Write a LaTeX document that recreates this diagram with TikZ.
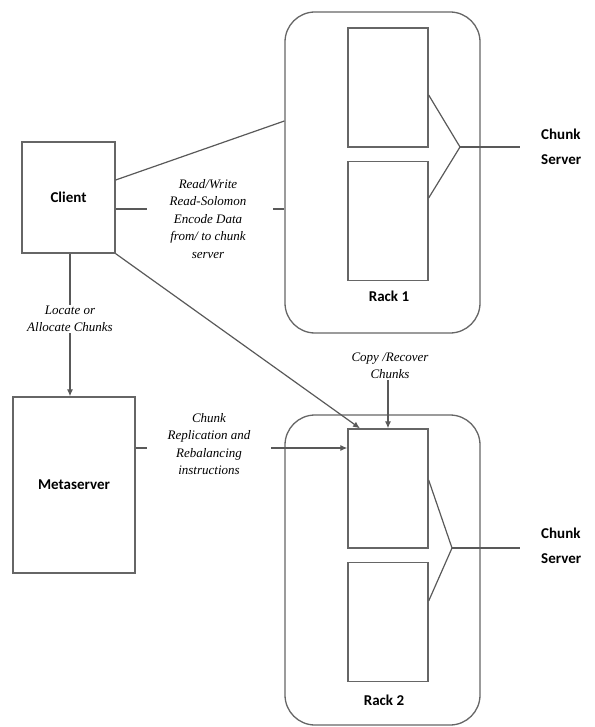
\documentclass[tikz,border=0pt]{standalone}
\usepackage{fontspec}
\setmainfont{Liberation Serif}
\newfontfamily\calibri{Carlito}
\usetikzlibrary{positioning, arrows.meta}

\tikzset{
    block/.style={draw=black!60, line width=1.3pt, inner sep=0pt,
        font=\calibri\bfseries\fontsize{15}{18}\selectfont},
    rack/.style={block, rounded corners=30pt},
    chunk/.style={block, minimum width=80pt, minimum height=119pt},
    note/.style={align=center, inner sep=1pt,
        font=\itshape\fontsize{13}{17.5}\selectfont},
    tag/.style={align=left, inner sep=0pt,
        font=\calibri\bfseries\fontsize{15}{25}\selectfont},
    link/.style={draw=black!65, line width=1.2pt},
    arrow/.style={link, -{Latex[length=7pt, width=6pt]}}
}

\begin{document}
\begin{tikzpicture}[x=1pt, y=-1pt]
    \useasboundingbox (0,0) rectangle (594,727);

    % client side
    \node[block, minimum width=93pt, minimum height=111pt]  (Client)     at (68.5,197.5) {Client};
    \node[block, minimum width=122pt, minimum height=176pt] (Metaserver) at (74,485)     {Metaserver};

    % racks
    \node[rack, minimum width=195pt, minimum height=321pt] (Rack 1) at (382.5,172.5) {};
    \node[rack, minimum width=195pt, minimum height=310pt] (Rack 2) at (382.5,570)   {};

    \node[chunk]                        (Box 1a) at (388,87.5)  {};
    \node[chunk, below=13pt of Box 1a]  (Box 1b)                {};
    \node[chunk]                        (Box 2a) at (388,488.5) {};
    \node[chunk, below=13pt of Box 2a]  (Box 2b)                {};

    \node[block, draw=none] (Rack 1 label) at (389,296) {Rack 1};
    \node[block, draw=none] (Rack 2 label) at (384,700) {Rack 2};

    % labels
    \node[note] (rw)       at (208,219) {Read/Write\\Read-Solomon\\Encode Data\\from/ to chunk\\server};
    \node[note] (locate)   at (70,319)  {Locate or\\Allocate Chunks};
    \node[note] (balance)  at (209,444) {Chunk\\Replication and\\Rebalancing\\instructions};
    \node[note] (recover)  at (390,366) {Copy /Recover\\Chunks};

    \node[tag, anchor=west] (Server 1) at (541,147) {Chunk\\Server};
    \node[tag, anchor=west] (Server 2) at (541,546) {Chunk\\Server};

    \coordinate (v1) at (460,147);
    \coordinate (v2) at (452,548);
    \coordinate (s1) at (520,147);
    \coordinate (s2) at (520,548);

    % connectors
    \draw[link] (Client.east |- 0,180) -- (Rack 1.west |- 0,121);
    \draw[link] (Client.east |- 0,209) -- (147,209);
    \draw[link] (273,209) -- (Rack 1.west |- 0,209);
    \draw[arrow] (Client.south east) -- (Box 2a.north west -| 360,0);
    \draw[link] (Client.south -| 70,0) -- (locate.north -| 70,0);
    \draw[arrow] (locate.south -| 70,0) -- (Metaserver.north -| 70,0);
    \draw[link] (Metaserver.east |- 0,448) -- (147,448);
    \draw[arrow] (271,448) -- (Box 2a.west |- 0,448);
    \draw[arrow] (recover.south -| 388,0) -- (Box 2a.north -| 388,0);

    \draw[link] (Box 1a.east |- 0,95)  -- (v1) -- (Box 1b.east |- 0,198);
    \draw[link] (v1) -- (s1);
    \draw[link] (Box 2a.east |- 0,480) -- (v2) -- (Box 2b.east |- 0,601);
    \draw[link] (v2) -- (s2);
\end{tikzpicture}
\end{document}
